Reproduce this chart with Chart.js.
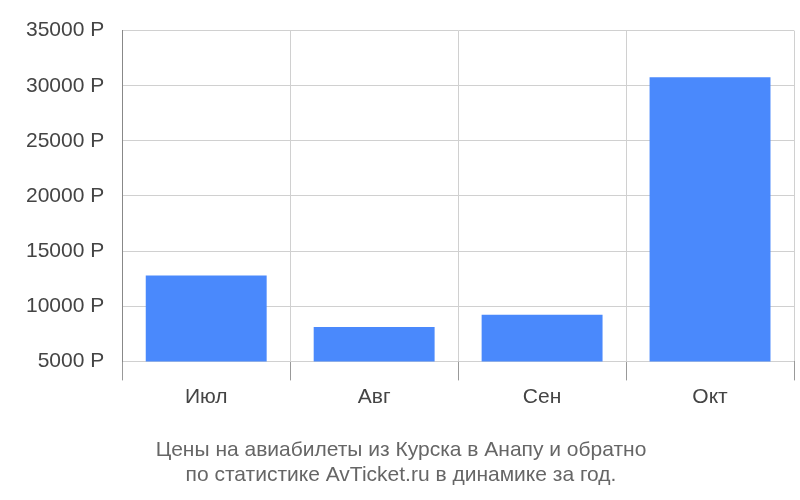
<!DOCTYPE html>
<html><head><meta charset="utf-8">
<script src="https://cdn.jsdelivr.net/npm/chart.js@4"></script>
<style>html,body{margin:0;padding:0;background:#fff}#w{width:800px;height:500px}</style>
</head><body><div id="w"><canvas id="c"></canvas></div>
<script>
const categories = ["Июл", "Авг", "Сен", "Окт"];
const prices = [12780, 8110, 9240, 30770];
const titleLines = ["Цены на авиабилеты из Курска в Анапу и обратно", "по статистике AvTicket.ru в динамике за год."];
new Chart(document.getElementById('c'), {
  type: 'bar',
  data: { labels: categories, datasets: [{ data: prices, backgroundColor: '#4a89fc', barPercentage: 0.72, categoryPercentage: 1 }] },
  options: {
    responsive: true, maintainAspectRatio: false, animation: false,
    layout: { padding: { left: 8, right: 6, top: -12, bottom: 12 } },
    plugins: {
      legend: { display: false }, tooltip: { enabled: false },
      title: { display: true, position: 'bottom', text: titleLines, color: '#666', font: { family: 'Liberation Sans', size: 21, weight: 'normal' }, padding: { top: 24, bottom: 0 }, lineHeight: 1.45 }
    },
    scales: {
      x: {
        grid: { offset: true, color: '#d0d0d0', tickLength: 19, tickColor: '#999' },
        border: { display: false },
        ticks: { color: '#444', font: { family: 'Liberation Sans', size: 21 }, padding: 4 }
      },
      y: {
        min: 5000, max: 35000,
        grid: { color: '#d0d0d0', drawTicks: false },
        border: { color: '#888' },
        ticks: { stepSize: 5000, color: '#444', padding: 18, font: { family: 'Liberation Sans', size: 21 }, callback: v => v + ' Р' }
      }
    }
  }
});
</script></body></html>
